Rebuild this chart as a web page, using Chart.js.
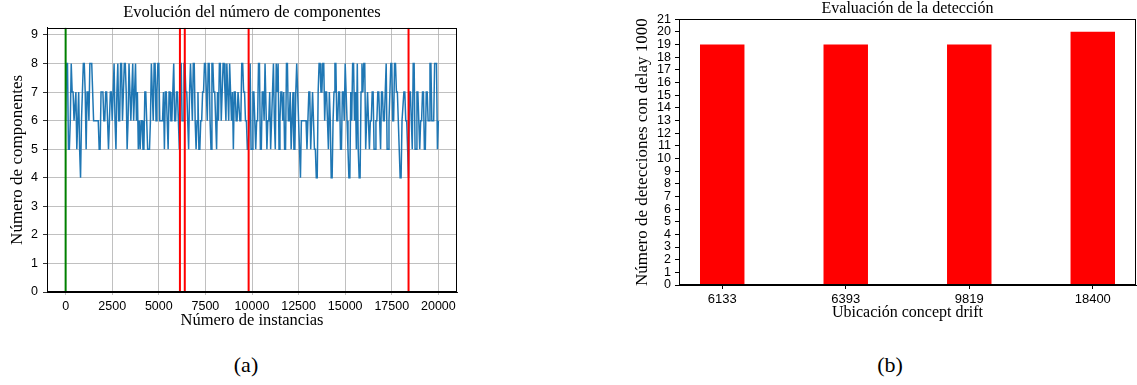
<!DOCTYPE html>
<html>
<head>
<meta charset="utf-8">
<script src="https://cdn.jsdelivr.net/npm/chart.js@4.4.1/dist/chart.umd.min.js"></script>
<style>
  html, body { margin: 0; padding: 0; background: #fff; }
  body { width: 1137px; height: 385px; position: relative; overflow: hidden; }
  #wrapA { position: absolute; left: 0; top: 0; width: 470px; height: 340px; }
  #wrapB { position: absolute; left: 620px; top: 0; width: 517px; height: 340px; }
  .cap { position: absolute; top: 352px; font-family: "Liberation Serif", serif; font-size: 22px;
         line-height: 26px; transform: translateX(-50%); color: #000; }
</style>
</head>
<body>
<div id="wrapA"><canvas id="compChart"></canvas></div>
<div id="wrapB"><canvas id="detChart"></canvas></div>
<div class="cap" style="left:246px">(a)</div>
<div class="cap" style="left:890px">(b)</div>
<script>
// Instance index of each sample of the mixture size (one sample every 50 instances)
const instances = [
  0, 50, 100, 150, 200, 250, 300, 350, 400, 450, 500, 550, 600, 650, 700, 750, 800, 850, 900, 950,
  1000, 1050, 1100, 1150, 1200, 1250, 1300, 1350, 1400, 1450, 1500, 1550, 1600, 1650, 1700, 1750, 1800, 1850, 1900, 1950,
  2000, 2050, 2100, 2150, 2200, 2250, 2300, 2350, 2400, 2450, 2500, 2550, 2600, 2650, 2700, 2750, 2800, 2850, 2900, 2950,
  3000, 3050, 3100, 3150, 3200, 3250, 3300, 3350, 3400, 3450, 3500, 3550, 3600, 3650, 3700, 3750, 3800, 3850, 3900, 3950,
  4000, 4050, 4100, 4150, 4200, 4250, 4300, 4350, 4400, 4450, 4500, 4550, 4600, 4650, 4700, 4750, 4800, 4850, 4900, 4950,
  5000, 5050, 5100, 5150, 5200, 5250, 5300, 5350, 5400, 5450, 5500, 5550, 5600, 5650, 5700, 5750, 5800, 5850, 5900, 5950,
  6000, 6050, 6100, 6150, 6200, 6250, 6300, 6350, 6400, 6450, 6500, 6550, 6600, 6650, 6700, 6750, 6800, 6850, 6900, 6950,
  7000, 7050, 7100, 7150, 7200, 7250, 7300, 7350, 7400, 7450, 7500, 7550, 7600, 7650, 7700, 7750, 7800, 7850, 7900, 7950,
  8000, 8050, 8100, 8150, 8200, 8250, 8300, 8350, 8400, 8450, 8500, 8550, 8600, 8650, 8700, 8750, 8800, 8850, 8900, 8950,
  9000, 9050, 9100, 9150, 9200, 9250, 9300, 9350, 9400, 9450, 9500, 9550, 9600, 9650, 9700, 9750, 9800, 9850, 9900, 9950,
  10000, 10050, 10100, 10150, 10200, 10250, 10300, 10350, 10400, 10450, 10500, 10550, 10600, 10650, 10700, 10750, 10800, 10850, 10900, 10950,
  11000, 11050, 11100, 11150, 11200, 11250, 11300, 11350, 11400, 11450, 11500, 11550, 11600, 11650, 11700, 11750, 11800, 11850, 11900, 11950,
  12000, 12050, 12100, 12150, 12200, 12250, 12300, 12350, 12400, 12450, 12500, 12550, 12600, 12650, 12700, 12750, 12800, 12850, 12900, 12950,
  13000, 13050, 13100, 13150, 13200, 13250, 13300, 13350, 13400, 13450, 13500, 13550, 13600, 13650, 13700, 13750, 13800, 13850, 13900, 13950,
  14000, 14050, 14100, 14150, 14200, 14250, 14300, 14350, 14400, 14450, 14500, 14550, 14600, 14650, 14700, 14750, 14800, 14850, 14900, 14950,
  15000, 15050, 15100, 15150, 15200, 15250, 15300, 15350, 15400, 15450, 15500, 15550, 15600, 15650, 15700, 15750, 15800, 15850, 15900, 15950,
  16000, 16050, 16100, 16150, 16200, 16250, 16300, 16350, 16400, 16450, 16500, 16550, 16600, 16650, 16700, 16750, 16800, 16850, 16900, 16950,
  17000, 17050, 17100, 17150, 17200, 17250, 17300, 17350, 17400, 17450, 17500, 17550, 17600, 17650, 17700, 17750, 17800, 17850, 17900, 17950,
  18000, 18050, 18100, 18150, 18200, 18250, 18300, 18350, 18400, 18450, 18500, 18550, 18600, 18650, 18700, 18750, 18800, 18850, 18900, 18950,
  19000, 19050, 19100, 19150, 19200, 19250, 19300, 19350, 19400, 19450, 19500, 19550, 19600, 19650, 19700, 19750, 19800, 19850, 19900, 19950,
  20000
];

// Number of mixture components at each sampled instance
const components = [
  6, 8, 8, 5, 5, 6, 8, 7, 7, 6, 6, 7, 5, 6, 7, 5, 4, 6, 7, 8,
  8, 7, 5, 7, 7, 6, 8, 8, 8, 7, 6, 6, 6, 6, 6, 6, 5, 5, 7, 7,
  7, 6, 6, 7, 7, 6, 5, 6, 7, 7, 6, 7, 8, 6, 5, 7, 8, 6, 6, 8,
  8, 6, 7, 8, 8, 7, 5, 6, 8, 8, 6, 7, 8, 6, 7, 8, 6, 7, 5, 6,
  5, 6, 6, 5, 5, 7, 7, 6, 5, 5, 5, 6, 8, 7, 6, 8, 8, 6, 7, 8,
  8, 6, 6, 6, 6, 7, 5, 7, 7, 6, 5, 7, 7, 6, 6, 7, 8, 6, 6, 7,
  7, 6, 5, 8, 8, 6, 6, 8, 8, 7, 7, 6, 5, 7, 8, 7, 6, 8, 8, 6,
  5, 6, 7, 5, 5, 6, 6, 7, 7, 8, 8, 7, 6, 8, 8, 6, 5, 8, 8, 7,
  7, 6, 5, 7, 6, 8, 8, 6, 7, 8, 8, 7, 6, 8, 7, 6, 8, 7, 6, 7,
  5, 7, 7, 6, 6, 7, 7, 6, 6, 8, 8, 7, 7, 6, 6, 5, 5, 6, 8, 5,
  5, 7, 7, 6, 5, 6, 6, 8, 8, 5, 5, 7, 7, 6, 8, 8, 5, 6, 6, 7,
  5, 6, 7, 8, 6, 5, 8, 7, 8, 5, 6, 7, 7, 6, 7, 5, 5, 8, 8, 6,
  6, 7, 5, 6, 7, 5, 5, 7, 8, 7, 6, 5, 4, 6, 6, 6, 6, 6, 6, 5,
  6, 7, 7, 5, 6, 7, 6, 5, 5, 4, 4, 7, 8, 8, 7, 7, 8, 8, 6, 7,
  7, 6, 5, 7, 6, 4, 4, 6, 7, 8, 8, 6, 6, 7, 7, 5, 5, 7, 7, 6,
  8, 7, 6, 5, 4, 4, 7, 6, 8, 8, 6, 7, 5, 8, 5, 4, 4, 7, 8, 7,
  8, 8, 5, 6, 7, 6, 5, 6, 6, 7, 7, 5, 5, 6, 6, 7, 7, 6, 5, 7,
  7, 6, 6, 7, 8, 5, 5, 6, 7, 8, 8, 6, 6, 8, 8, 7, 7, 6, 5, 4,
  4, 6, 6, 7, 7, 6, 6, 5, 4, 7, 7, 6, 5, 8, 8, 5, 5, 7, 7, 6,
  5, 6, 6, 7, 7, 5, 5, 7, 7, 6, 6, 8, 8, 6, 6, 6, 8, 8, 8, 5,
  6
];
const instanceTicks = [0, 2500, 5000, 7500, 10000, 12500, 15000, 17500, 20000];
const componentTicks = [0, 1, 2, 3, 4, 5, 6, 7, 8, 9];

// Start of the stream and the locations of the concept drifts
const streamStart = 0;
const driftPositions = [6133, 6393, 9819, 18400];

// Detections with delay 1000 for each drift location
const detections = [19, 19, 19, 20];
const driftLabels = driftPositions.map(String);
const detectionTicks = [0, 1, 2, 3, 4, 5, 6, 7, 8, 9, 10, 11, 12, 13, 14, 15, 16, 17, 18, 19, 20, 21];

const serif = '"Liberation Serif", "Times New Roman", serif';
const sans = '"Liberation Sans", Arial, sans-serif';

const fixedTicks = values => scale => { scale.ticks = values.map(value => ({ value })); };

// Closed frame around the plotting area
const framePlugin = {
  id: 'frame',
  afterDraw(chart) {
    const { ctx, chartArea: a } = chart;
    ctx.save();
    ctx.strokeStyle = '#000';
    ctx.lineWidth = 1;
    ctx.strokeRect(Math.round(a.left) + 0.5, Math.round(a.top) + 0.5,
                   Math.round(a.right - a.left) - 1, Math.round(a.bottom - a.top) - 1);
    ctx.restore();
  }
};

// Vertical reference lines placed through the x scale
const markerPlugin = {
  id: 'markers',
  afterDatasetsDraw(chart, args, opts) {
    const { ctx, chartArea: a, scales } = chart;
    ctx.save();
    ctx.beginPath();
    ctx.rect(a.left, a.top, a.right - a.left, a.bottom - a.top);
    ctx.clip();
    ctx.lineWidth = opts.width;
    opts.lines.forEach(line => {
      const x = scales.x.getPixelForValue(line.value);
      ctx.strokeStyle = line.color;
      ctx.beginPath();
      ctx.moveTo(x, a.top);
      ctx.lineTo(x, a.bottom);
      ctx.stroke();
    });
    ctx.restore();
  }
};

new Chart(document.getElementById('compChart'), {
  type: 'line',
  data: {
    datasets: [{
      data: instances.map((x, i) => ({ x, y: components[i] })),
      borderColor: '#1f77b4',
      borderWidth: 1.5,
      pointRadius: 0,
      tension: 0,
      fill: false
    }]
  },
  options: {
    responsive: true,
    maintainAspectRatio: false,
    animation: false,
    layout: { padding: { left: 0, right: 13, top: 0, bottom: 0 } },
    plugins: {
      legend: { display: false },
      tooltip: { enabled: false },
      title: {
        display: true,
        fullSize: false,
        text: 'Evolución del número de componentes',
        color: '#000',
        font: { family: serif, size: 16.5, weight: 'normal', lineHeight: 1.2 },
        padding: { top: 3, bottom: 5 }
      },
      markers: {
        width: 2,
        lines: [{ value: streamStart, color: '#008000' }]
          .concat(driftPositions.map(v => ({ value: v, color: '#ff0000' })))
      }
    },
    scales: {
      x: {
        type: 'linear',
        min: -1000,
        max: 21000,
        afterFit(scale) { scale.height = 48; },
        afterBuildTicks: fixedTicks(instanceTicks),
        ticks: {
          autoSkip: false,
          maxRotation: 0,
          color: '#000',
          padding: 4,
          font: { family: sans, size: 12.5 },
          callback: v => String(v)
        },
        grid: { color: '#b0b0b0', lineWidth: 0.8, drawTicks: true, tickLength: 3, tickColor: '#b0b0b0' },
        border: { display: true, color: '#000', width: 1 },
        title: {
          display: true,
          text: 'Número de instancias',
          color: '#000',
          font: { family: serif, size: 16.5, lineHeight: 1.2 },
          padding: { top: 0, bottom: 9 }
        }
      },
      y: {
        type: 'linear',
        min: 0,
        max: 9.25,
        afterFit(scale) { scale.width = 47; },
        afterBuildTicks: fixedTicks(componentTicks),
        ticks: {
          autoSkip: false,
          color: '#000',
          padding: 5,
          font: { family: sans, size: 12.5 }
        },
        grid: { color: '#b0b0b0', lineWidth: 0.8, drawTicks: true, tickLength: 4, tickColor: '#000' },
        border: { display: true, color: '#000', width: 1 },
        title: {
          display: true,
          text: 'Número de componentes',
          color: '#000',
          font: { family: serif, size: 17, lineHeight: 1.2 },
          padding: { top: 7, bottom: 0 }
        }
      }
    }
  },
  plugins: [markerPlugin, framePlugin]
});

new Chart(document.getElementById('detChart'), {
  type: 'bar',
  data: {
    datasets: [{
      data: driftLabels.map((_, i) => ({ x: i, y: detections[i] })),
      backgroundColor: '#ff0000',
      borderWidth: 0,
      categoryPercentage: 1,
      barPercentage: 0.36
    }]
  },
  options: {
    responsive: true,
    maintainAspectRatio: false,
    animation: false,
    layout: { padding: { left: 0, right: 1, top: 0, bottom: 0 } },
    plugins: {
      legend: { display: false },
      tooltip: { enabled: false },
      title: {
        display: true,
        fullSize: false,
        text: 'Evaluación de la detección',
        color: '#000',
        font: { family: serif, size: 16, weight: 'normal', lineHeight: 1.2 },
        padding: { top: -1, bottom: 1 }
      }
    },
    scales: {
      x: {
        type: 'linear',
        offset: false,
        min: -0.35,
        max: 3.35,
        afterFit(scale) { scale.height = 55; },
        afterBuildTicks: fixedTicks(driftLabels.map((_, i) => i)),
        ticks: {
          autoSkip: false,
          maxRotation: 0,
          color: '#000',
          padding: 3,
          font: { family: sans, size: 13 },
          callback: v => driftLabels[v]
        },
        grid: { offset: false, drawOnChartArea: false, drawTicks: true, tickLength: 4, tickColor: '#000' },
        border: { display: true, color: '#000', width: 1 },
        title: {
          display: true,
          text: 'Ubicación concept drift',
          color: '#000',
          font: { family: serif, size: 16, lineHeight: 1.2 },
          padding: { top: 0, bottom: 17.7 }
        }
      },
      y: {
        type: 'linear',
        min: 0,
        max: 21,
        afterFit(scale) { scale.width = 59; },
        afterBuildTicks: fixedTicks(detectionTicks),
        ticks: {
          autoSkip: false,
          color: '#000',
          padding: 4,
          font: { family: sans, size: 12.5 }
        },
        grid: { drawOnChartArea: false, drawTicks: true, tickLength: 4, tickColor: '#000' },
        border: { display: true, color: '#000', width: 1 },
        title: {
          display: true,
          text: 'Número de detecciones con delay 1000',
          color: '#000',
          font: { family: serif, size: 17, lineHeight: 1.2 },
          padding: { top: 12, bottom: 0 }
        }
      }
    }
  },
  plugins: [framePlugin]
});
</script>
</body>
</html>
